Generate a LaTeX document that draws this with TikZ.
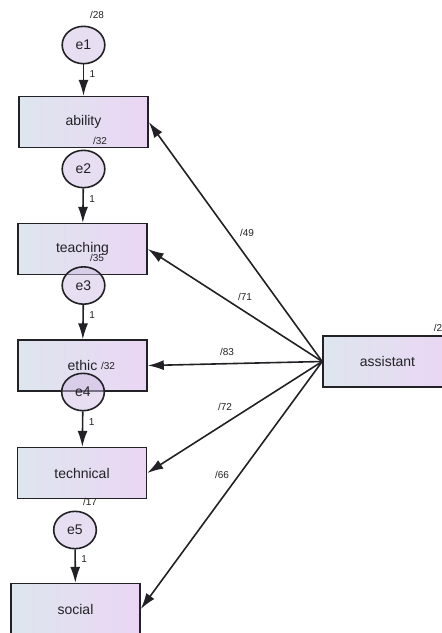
\documentclass[tikz,border=0pt]{standalone}
\usepackage{fontspec}
\setmainfont{Liberation Sans}
\usepackage{tikz}
\usetikzlibrary{arrows.meta,shapes.geometric,positioning}

\definecolor{boxleft}{RGB}{222,230,238}
\definecolor{boxright}{RGB}{234,214,244}
\definecolor{errfill}{RGB}{208,190,228}
\definecolor{ink}{RGB}{34,34,38}

\tikzset{
	obsbox/.style={draw=ink,line width=1.2pt,left color=boxleft,right color=boxright,
		minimum width=96.75pt,minimum height=38pt,font=\fontsize{10.5}{11}\selectfont,text=ink},
	errnode/.style={ellipse,draw=ink,line width=1.2pt,fill=errfill,fill opacity=0.5,text opacity=1,
		minimum width=32pt,minimum height=28pt,inner sep=0pt,font=\fontsize{10.5}{11}\selectfont,text=ink},
	est/.style={font=\fontsize{7.5}{8}\selectfont,text=ink,inner sep=0pt},
	regpath/.style={-{Latex[length=12pt,width=7.5pt]},line width=1.2pt,draw=ink}
}

\begin{document}
\begin{tikzpicture}[x=0.75pt,y=-0.75pt]
	\useasboundingbox (0,0) rectangle (442,633);
	\clip (0,0) rectangle (442,633);

	% observed variables
	\node[obsbox] (ability)   at (83.5,122) {ability};
	\node[obsbox] (teaching)  at (82.5,249) {teaching};
	\node[obsbox] (ethic)     at (82.5,365.5) {ethic};
	\node[obsbox] (technical) at (82,473) {technical};
	\node[obsbox] (social)    at (75.5,609) {social};
	\node[obsbox] (assistant) at (387.5,361.5) {assistant};

	% error terms
	\node[errnode] (e1) at (83.5,45)  {e1};
	\node[errnode] (e2) at (83.5,169) {e2};
	\node[errnode] (e3) at (83.5,285.5) {e3};
	\node[errnode] (e4) at (83,392) {e4};
	\node[errnode] (e5) at (75,530) {e5};

	\draw[regpath] (e1) -- node[est,pos=0.3,right=4pt] {1} (ability);
	\draw[regpath] (e2) -- node[est,pos=0.3,right=4pt] {1} (teaching);
	\draw[regpath] (e3) -- node[est,pos=0.3,right=4pt] {1} (ethic);
	\draw[regpath] (e4) -- node[est,pos=0.3,right=4pt] {1} (technical);
	\draw[regpath] (e5) -- node[est,pos=0.3,right=4pt] {1} (social);

	% paths from assistant
	\draw[regpath] (assistant.west) -- (ability.east);
	\draw[regpath] (assistant.west) -- (teaching.east);
	\draw[regpath] (assistant.west) -- (ethic.east);
	\draw[regpath] (assistant.west) -- (technical.east);
	\draw[regpath] (assistant.west) -- (social.east);

	% estimates
	\node[est] (v1) at (97,15)   {/28};
	\node[est] (v2) at (100,141) {/32};
	\node[est] (v3) at (97,258)  {/35};
	\node[est] (v4) at (108,366) {/32};
	\node[est] (v5) at (90,502)  {/17};
	\node[est] (va) at (438,328) {/2};
	\node[est] (w1) at (247,233) {/49};
	\node[est] (w2) at (245,297) {/71};
	\node[est] (w3) at (227,352) {/83};
	\node[est] (w4) at (225,407) {/72};
	\node[est] (w5) at (222,475) {/66};
\end{tikzpicture}
\end{document}
